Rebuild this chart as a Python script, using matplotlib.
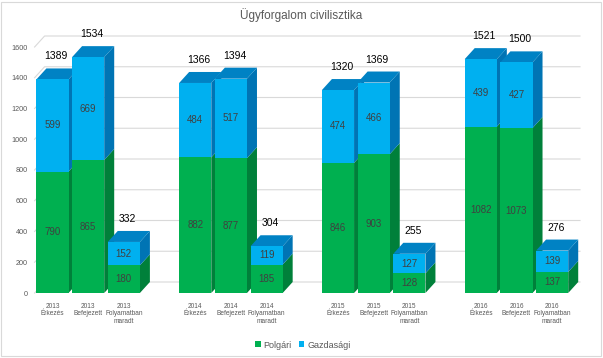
import numpy as np
import matplotlib
matplotlib.use("Agg")
import matplotlib.pyplot as plt
from matplotlib.patches import Polygon, Rectangle, Patch

plt.rcParams['font.family'] = ['Liberation Sans', 'DejaVu Sans']

years = ['2013', '2014', '2015', '2016']
kinds = ['Érkezés', 'Befejezett', 'Folyamatban\nmaradt']
polgari = [790, 865, 180, 882, 877, 185, 846, 903, 128, 1082, 1073, 137]
gazdasagi = [599, 669, 152, 484, 517, 119, 474, 466, 127, 439, 427, 139]
yticks = [0, 200, 400, 600, 800, 1000, 1200, 1400, 1600]

green, green_side = '#00B050', '#00803A'
blue, blue_side, blue_top = '#00B0F0', '#0074B4', '#0082C4'

W, H = 603, 358
fig = plt.figure(figsize=(W / 100, H / 100), dpi=100)
ax = fig.add_axes([34.6 / W, 65 / H, (570 - 34.6) / W, (293 - 47) / H])
ax.set_xlim(-0.5, 14.5)
ax.set_ylim(0, 1600)
for s in ax.spines.values():
    s.set_visible(False)

# depth of the fake 3d, in pixels -> data units
px_x = (570 - 34.6) / 15.0
px_y = (293 - 47) / 1600.0
dx = 10 / px_x
dy = 11 / px_y
bw = 0.9

pos = [g * 4 + i for g in range(len(years)) for i in range(len(kinds))]
labels = [y + '\n' + k for y in years for k in kinds]

# back wall gridlines
for t in yticks:
    ax.plot([-0.5, -0.5 + dx, 14.5 + dx], [t, t + dy, t + dy], color='#D9D9D9',
            lw=0.8, zorder=0, clip_on=False)

z = 2
for x, p, g in zip(pos, polgari, gazdasagi):
    l, r = x - bw / 2, x + bw / 2
    tot = p + g
    # sides
    ax.add_patch(Polygon([(r, 0), (r + dx, dy), (r + dx, p + dy), (r, p)],
                         closed=True, fc=green_side, ec='none', zorder=z, clip_on=False))
    ax.add_patch(Polygon([(r, p), (r + dx, p + dy), (r + dx, tot + dy), (r, tot)],
                         closed=True, fc=blue_side, ec='none', zorder=z, clip_on=False))
    # top
    ax.add_patch(Polygon([(l, tot), (l + dx, tot + dy), (r + dx, tot + dy), (r, tot)],
                         closed=True, fc=blue_top, ec='none', zorder=z, clip_on=False))
    # front
    ax.add_patch(Rectangle((l, 0), bw, p, fc=green, ec='none', zorder=z + 1))
    ax.add_patch(Rectangle((l, p), bw, g, fc=blue, ec='none', zorder=z + 1))
    ax.text(x, p / 2, str(p), ha='center', va='center', fontsize=7, color='#404040', zorder=50)
    ax.text(x, p + g / 2, str(g), ha='center', va='center', fontsize=7, color='#404040', zorder=50)
    ax.text(x + 0.1, tot + 18 / px_y, str(tot), ha='center', va='bottom', fontsize=7.5,
            color='#000000', zorder=50)
    z += 2

ax.set_yticks(yticks)
ax.set_yticklabels([str(t) for t in yticks], fontsize=5.2, color='#595959')
ax.set_xticks(pos)
ax.set_xticklabels(labels, fontsize=4.7, color='#595959', linespacing=1.1)
ax.tick_params(length=0, axis='y', pad=5)
ax.tick_params(length=0, axis='x', pad=7)

fig.text(0.5, 1 - 15 / H, 'Ügyforgalom civilisztika', ha='center', va='center',
         fontsize=8.5, color='#595959')

handles = [Patch(fc=green, ec='none'), Patch(fc=blue, ec='none')]
fig.legend(handles, ['Polgári', 'Gazdasági'], loc='center', bbox_to_anchor=(303 / W, 1 - 345 / H),
           ncol=2, frameon=False, fontsize=6.5, handlelength=0.6, handleheight=0.6,
           handletextpad=0.3, columnspacing=0.8, labelcolor='#595959')

fig.add_artist(Rectangle((1 / W, 2 / H), 1 - 3 / W, 1 - 4 / H, transform=fig.transFigure,
                         fill=False, ec='#D9D9D9', lw=0.8))

fig.savefig('out.png', dpi=100)
